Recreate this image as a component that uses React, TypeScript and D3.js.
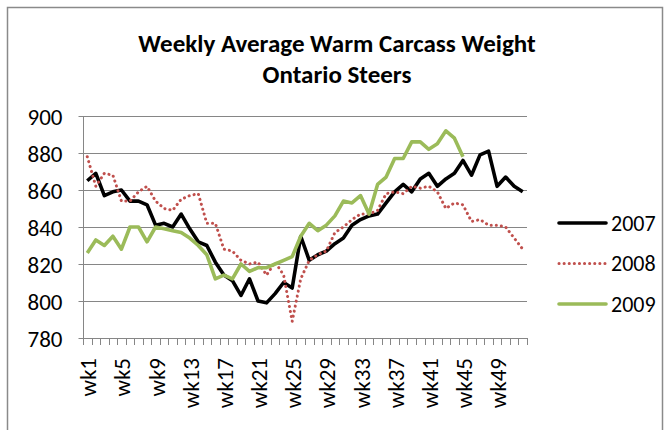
import { useEffect, useRef } from 'react';
import * as d3 from 'd3';

const weeks = Array.from({ length: 52 }, (_, i) => `wk${i + 1}`);
const shownWeeks = ['wk1', 'wk5', 'wk9', 'wk13', 'wk17', 'wk21', 'wk25', 'wk29', 'wk33', 'wk37', 'wk41', 'wk45', 'wk49'];
const yTicks = [780, 800, 820, 840, 860, 880, 900];

const w2007 = [
  865, 869, 857, 859, 860, 854, 854, 852, 841, 842, 840, 847, 839,
  832, 830, 821, 814, 811, 803, 812, 800, 799, 804, 810, 807, 835,
  822, 825, 827, 831, 834, 841, 844, 846, 847, 853, 859, 863, 859,
  866, 869, 862, 866, 869, 876, 868, 879, 881, 862, 867, 862, 859,
];
const w2008 = [
  878, 862, 869, 868, 854, 854, 859, 862, 854, 850, 849, 855, 857,
  858, 842, 842, 828, 827, 822, 820, 821, 814, 821, 814, 789, 812,
  822, 825, 827, 837, 840, 844, 847, 847, 849, 858, 859, 858, 862,
  861, 862, 859, 850, 853, 852, 843, 844, 841, 841, 840, 834, 828,
];
const w2009 = [
  826, 833, 830, 835, 828, 840, 840, 832, 840, 839, 838, 837, 834,
  830, 825, 812, 814, 812, 820, 816, 818, 818, 820, 822, 824, 835,
  842, 838, 841, 846, 854, 853, 857, 847, 863, 867, 877, 877, 886,
  886, 882, 885, 892, 888, 878,
];

const series = [
  { name: '2007', values: w2007, color: '#000000', width: 3.6, dash: null },
  { name: '2008', values: w2008, color: '#C0504D', width: 3, dash: '0.1 5' },
  { name: '2009', values: w2009, color: '#9BBB59', width: 3.6, dash: null },
];

export default function App() {
  const svgRef = useRef<SVGSVGElement>(null);

  useEffect(() => {
    if (!svgRef.current) return;
    const width = 665;
    const height = 430;
    const font = 'Carlito, "Open Sans", "Noto Sans", sans-serif';

    const svg = d3.select(svgRef.current);
    svg.selectAll('*').remove();
    svg.attr('width', width).attr('height', height);

    svg.append('rect').attr('width', width).attr('height', height).attr('fill', '#fff');

    // chart border (bottom edge is cropped off)
    svg.append('path')
      .attr('d', `M7.5,${height} V7.5 H662.5 V${height}`)
      .attr('fill', 'none')
      .attr('stroke', '#8a8a8a')
      .attr('stroke-width', 1.5);

    // title
    const title = svg.append('text')
      .attr('text-anchor', 'middle')
      .style('font-family', font)
      .style('font-size', '25px')
      .style('font-weight', 'bold')
      .style('fill', '#000');
    title.append('tspan').attr('x', 337).attr('y', 52).text('Weekly Average Warm Carcass Weight');
    title.append('tspan').attr('x', 337).attr('y', 83).text('Ontario Steers');

    const x = d3.scaleBand<string>().domain(weeks).range([83, 527]).paddingInner(0).paddingOuter(0);
    const y = d3.scaleLinear().domain([780, 900]).range([338, 116]);
    const cx = (i: number) => (x(weeks[i]) as number) + x.bandwidth() / 2;

    // gridlines
    svg.append('g')
      .selectAll('line')
      .data(yTicks.slice(1))
      .join('line')
      .attr('x1', 83)
      .attr('x2', 527)
      .attr('y1', d => Math.round(y(d)) + 0.5)
      .attr('y2', d => Math.round(y(d)) + 0.5)
      .attr('stroke', '#868686')
      .attr('stroke-width', 1);

    // y axis
    const yAxis = svg.append('g')
      .attr('transform', 'translate(83.5,0)')
      .call(d3.axisLeft(y).tickValues(yTicks).tickSize(5).tickPadding(16).tickFormat(d3.format('d')));
    yAxis.select('.domain').attr('stroke', '#868686').attr('d', `M0,116V338.5`);
    yAxis.selectAll('.tick line').attr('stroke', '#868686');
    yAxis.selectAll('.tick text')
      .attr('dy', '0.35em')
      .style('font-family', font)
      .style('font-size', '23px')
      .style('fill', '#000');

    // x axis line and minor ticks
    const xg = svg.append('g');
    xg.append('line')
      .attr('x1', 83).attr('x2', 527)
      .attr('y1', 338.5).attr('y2', 338.5)
      .attr('stroke', '#868686');
    xg.selectAll('line.tk')
      .data(d3.range(weeks.length + 1))
      .join('line')
      .attr('class', 'tk')
      .attr('x1', d => Math.round(83 + d * x.step()) + 0.5)
      .attr('x2', d => Math.round(83 + d * x.step()) + 0.5)
      .attr('y1', 338)
      .attr('y2', 345)
      .attr('stroke', '#868686');
    xg.selectAll('text')
      .data(shownWeeks)
      .join('text')
      .attr('transform', d => `translate(${(x(d) as number) + x.bandwidth() / 2 + 9},358) rotate(-90)`)
      .attr('text-anchor', 'end')
      .style('font-family', font)
      .style('font-size', '23px')
      .style('fill', '#000')
      .text(d => d);

    // lines
    const line = d3.line<number>()
      .x((_, i) => cx(i))
      .y(d => y(d));

    series.forEach(s => {
      svg.append('path')
        .datum(s.values)
        .attr('fill', 'none')
        .attr('stroke', s.color)
        .attr('stroke-width', s.width)
        .attr('stroke-linejoin', 'round')
        .attr('stroke-linecap', s.dash ? 'round' : 'butt')
        .attr('stroke-dasharray', s.dash)
        .attr('d', line);
    });

    // legend
    const legend = svg.append('g');
    series.forEach((s, i) => {
      const ly = 223 + i * 40.5;
      legend.append('line')
        .attr('x1', 559).attr('x2', 606)
        .attr('y1', ly).attr('y2', ly)
        .attr('stroke', s.color)
        .attr('stroke-width', s.width)
        .attr('stroke-linecap', 'round')
        .attr('stroke-dasharray', s.dash);
      legend.append('text')
        .attr('x', 611)
        .attr('y', ly)
        .attr('dy', '0.35em')
        .style('font-family', font)
        .style('font-size', '22px')
        .style('fill', '#000')
        .text(s.name);
    });
  }, []);

  return (
    <div style={{ position: 'fixed', left: 0, top: 0 }}>
      <svg ref={svgRef}></svg>
    </div>
  );
}
